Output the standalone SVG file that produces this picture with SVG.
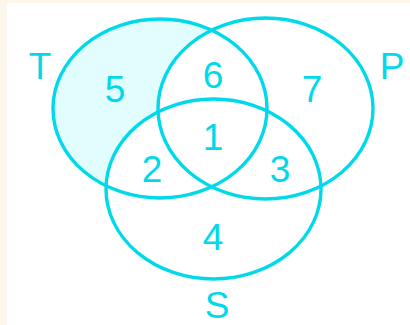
<svg xmlns="http://www.w3.org/2000/svg" width="410" height="325" viewBox="0 0 410 325">
  <style>
    .set { fill: none; stroke: #00d9ea; stroke-width: 3.4; }
    .lbl { font-family: "Liberation Sans", Arial, sans-serif; font-size: 37px; fill: #00d9ea; text-anchor: middle; }
  </style>
  <defs>
    <mask id="onlyT">
      <rect x="0" y="0" width="410" height="325" fill="black"/>
      <ellipse cx="160" cy="108.5" rx="107" ry="89.5" fill="white"/>
      <ellipse cx="265.5" cy="108.5" rx="107.5" ry="90.5" fill="black"/>
      <ellipse cx="213.5" cy="189" rx="107.5" ry="90" fill="black"/>
    </mask>
  </defs>
  <rect x="0" y="0" width="410" height="325" fill="#fdf6ea"/>
  <rect x="7" y="3" width="403" height="322" fill="#ffffff"/>
  <rect id="region-5-fill" x="0" y="0" width="410" height="325" fill="#e2fdfe" mask="url(#onlyT)"/>
  <g id="connectors"></g>
  <g id="set-T">
    <ellipse class="set" cx="160" cy="108.5" rx="107" ry="89.5"/>
    <text class="lbl" x="40" y="79">T</text>
  </g>
  <g id="set-P">
    <ellipse class="set" cx="265.5" cy="108.5" rx="107.5" ry="90.5"/>
    <text class="lbl" x="392" y="79">P</text>
  </g>
  <g id="set-S">
    <ellipse class="set" cx="213.5" cy="189" rx="107.5" ry="90"/>
    <text class="lbl" x="217" y="318">S</text>
  </g>
  <g id="regions">
    <text class="lbl" x="115" y="102">5</text>
    <text class="lbl" x="213" y="88">6</text>
    <text class="lbl" x="312" y="102">7</text>
    <text class="lbl" x="213" y="150">1</text>
    <text class="lbl" x="152" y="182">2</text>
    <text class="lbl" x="280" y="182">3</text>
    <text class="lbl" x="213" y="250">4</text>
  </g>
</svg>
